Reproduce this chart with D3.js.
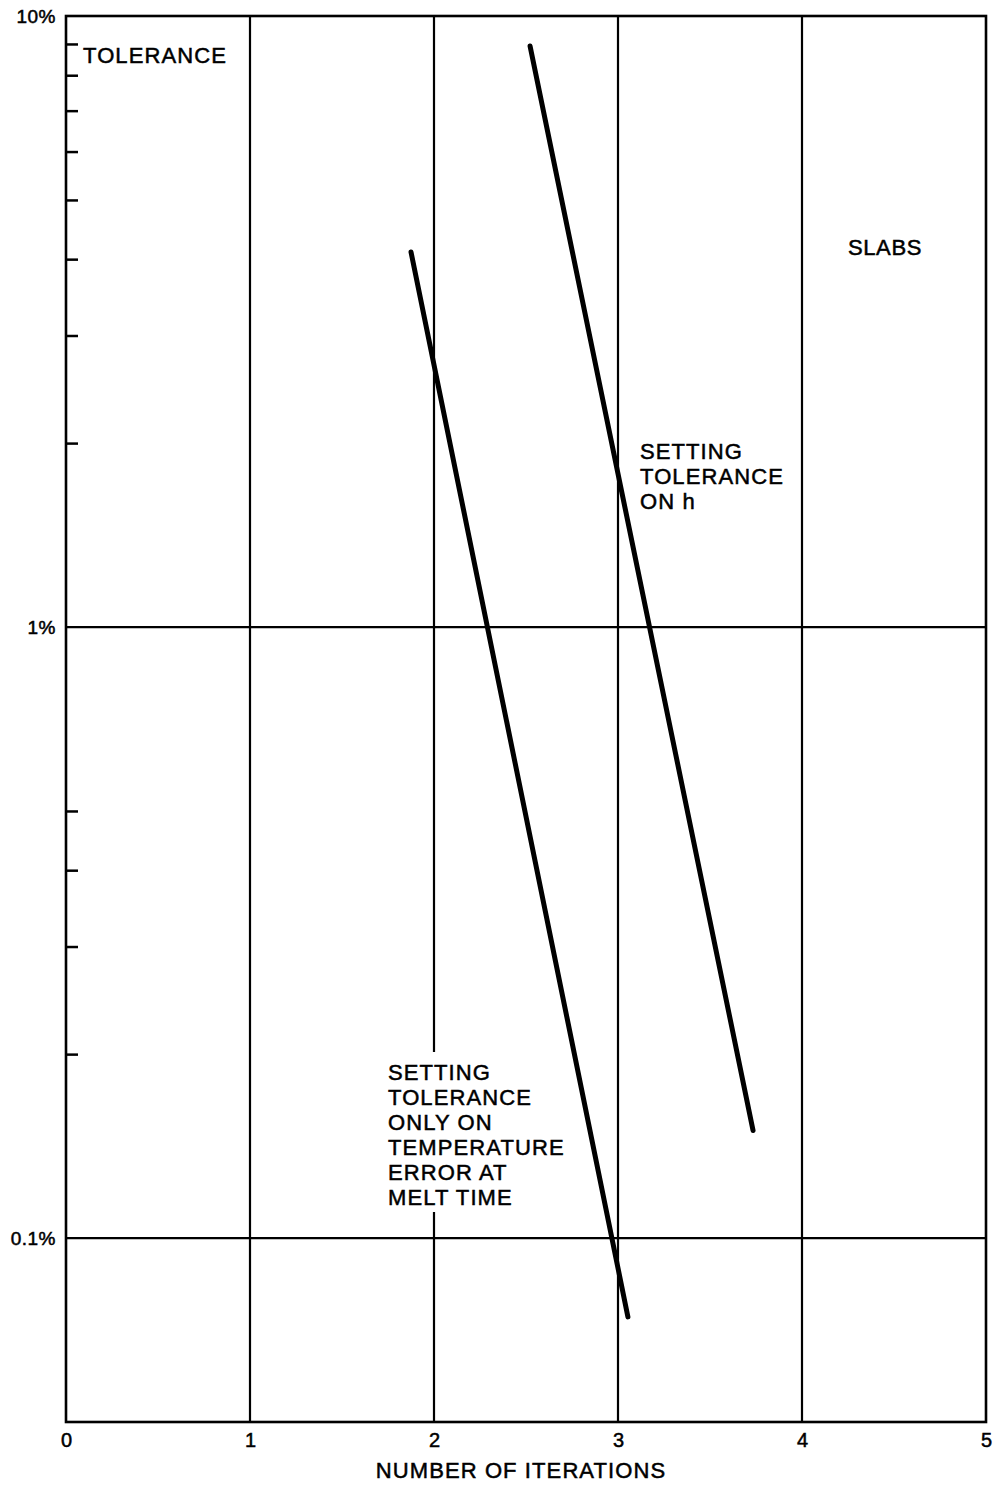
<!DOCTYPE html>
<html>
<head>
<meta charset="utf-8">
<script src="https://cdn.jsdelivr.net/npm/d3@7"></script>
<style>
  html, body { margin: 0; padding: 0; background: #fff; }
  svg { display: block; }
  text { font-family: "Liberation Sans", Arial, Helvetica, sans-serif; fill: #000; stroke: #000; stroke-width: 0.5px; }
</style>
</head>
<body>
<svg id="chart" width="994" height="1486"></svg>
<script>
// Number of iterations needed vs. convergence tolerance (slabs)
const xTicks = [0, 1, 2, 3, 4, 5];
const yMajor = [0.1, 1, 10];
const yMajorLabels = ["0.1%", "1%", "10%"];
const yMinor = [0.2, 0.3, 0.4, 0.5, 2, 3, 4, 5, 6, 7, 8, 9];

// Each curve: [iterations, tolerance %] at its two ends
const meltTimeCurve = [[1.875, 4.11], [3.054, 0.0743]];
const hCurve = [[2.522, 8.93], [3.734, 0.150]];

const meltTimeLabel = ["SETTING", "TOLERANCE", "ONLY ON", "TEMPERATURE", "ERROR AT", "MELT TIME"];
const hLabel = ["SETTING", "TOLERANCE", "ON h"];

const svg = d3.select("#chart");
const plot = { left: 66, right: 986, top: 16, bottom: 1422 };
const labelFont = { size: "22px", spacing: "1.1px" };

const x = d3.scaleLinear().domain([0, 5]).range([plot.left, plot.right]);
const y = d3.scaleLog().domain([0.05, 10]).range([plot.bottom, plot.top]);

// Vertical grid at each whole iteration
svg.append("g").selectAll("line")
  .data(xTicks.filter(d => d > 0 && d < 5))
  .join("line")
  .attr("x1", d => x(d)).attr("x2", d => x(d))
  .attr("y1", plot.top).attr("y2", plot.bottom)
  .attr("stroke", "#000").attr("stroke-width", 2.2);

// Horizontal grid at decades
svg.append("g").selectAll("line")
  .data([0.1, 1])
  .join("line")
  .attr("x1", plot.left).attr("x2", plot.right)
  .attr("y1", d => y(d)).attr("y2", d => y(d))
  .attr("stroke", "#000").attr("stroke-width", 2.2);

// Minor ticks pointing into the plot
svg.append("g")
  .attr("transform", `translate(${plot.left},0)`)
  .call(d3.axisRight(y).tickValues(yMinor).tickSize(12).tickFormat(""))
  .call(g => g.select(".domain").remove())
  .call(g => g.selectAll(".tick line").attr("stroke", "#000").attr("stroke-width", 2.5));

// Frame
svg.append("rect")
  .attr("x", plot.left).attr("y", plot.top)
  .attr("width", plot.right - plot.left).attr("height", plot.bottom - plot.top)
  .attr("fill", "none").attr("stroke", "#000").attr("stroke-width", 2.6);

// Y tick labels
svg.append("g")
  .attr("transform", `translate(${plot.left},0)`)
  .call(d3.axisLeft(y).tickValues(yMajor).tickSize(0).tickPadding(10)
        .tickFormat((d, i) => yMajorLabels[i]))
  .call(g => g.select(".domain").remove())
  .call(g => g.selectAll(".tick text")
    .style("font-size", "19px").style("letter-spacing", "0.5px")
    .style("font-family", "'Liberation Sans', Arial, sans-serif"));

// X tick labels
svg.append("g")
  .attr("transform", `translate(0,${plot.bottom})`)
  .call(d3.axisBottom(x).tickValues(xTicks).tickSize(0).tickPadding(11)
        .tickFormat(d3.format("d")))
  .call(g => g.select(".domain").remove())
  .call(g => g.selectAll(".tick text")
    .style("font-size", "20px")
    .style("font-family", "'Liberation Sans', Arial, sans-serif"));

// Axis title
svg.append("text")
  .attr("x", 521).attr("y", 1478)
  .attr("text-anchor", "middle")
  .style("font-size", labelFont.size).style("letter-spacing", labelFont.spacing)
  .text("NUMBER OF ITERATIONS");

svg.append("text")
  .attr("x", 83).attr("y", 63)
  .style("font-size", labelFont.size).style("letter-spacing", labelFont.spacing)
  .text("TOLERANCE");

svg.append("text")
  .attr("x", 848).attr("y", 255)
  .style("font-size", labelFont.size).style("letter-spacing", "0.6px")
  .text("SLABS");

// Curves
const line = d3.line().x(d => x(d[0])).y(d => y(d[1]));
svg.append("g").selectAll("path")
  .data([meltTimeCurve, hCurve])
  .join("path")
  .attr("d", line)
  .attr("fill", "none").attr("stroke", "#000")
  .attr("stroke-width", 5).attr("stroke-linecap", "round");

// Curve annotations
function block(lines, x0, y0, bg) {
  const g = svg.append("g");
  if (bg) {
    g.append("rect")
      .attr("x", x0 - 4).attr("y", y0 - 28)
      .attr("width", 186).attr("height", lines.length * 25 + 10)
      .attr("fill", "#fff");
  }
  g.selectAll("text").data(lines).join("text")
    .attr("x", x0).attr("y", (d, i) => y0 + i * 25)
    .style("font-size", labelFont.size).style("letter-spacing", labelFont.spacing)
    .text(d => d);
}
block(hLabel, 640, 459, false);
block(meltTimeLabel, 388, 1080, true);
</script>
</body>
</html>
